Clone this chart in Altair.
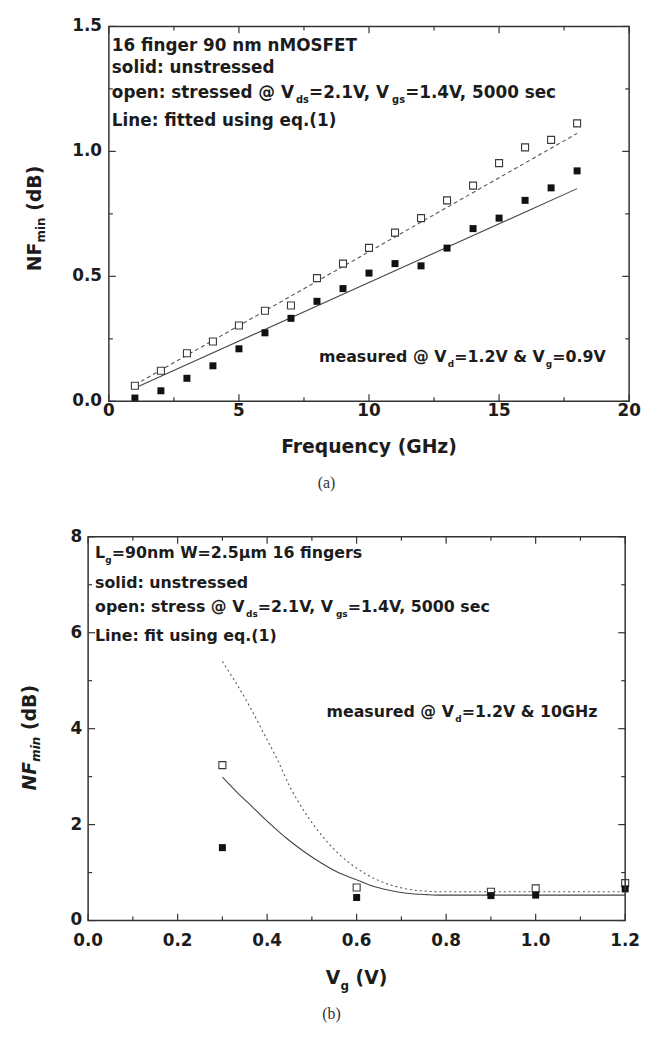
import altair as alt
import pandas as pd

# ---------------- panel (a) data ----------------
freq = list(range(1, 19))
nf_unstressed = [0.013, 0.042, 0.092, 0.142, 0.210, 0.274, 0.332, 0.400, 0.451,
                 0.513, 0.551, 0.542, 0.613, 0.691, 0.733, 0.804, 0.854, 0.922]
nf_stressed = [0.062, 0.122, 0.192, 0.239, 0.303, 0.362, 0.383, 0.493, 0.551,
               0.614, 0.675, 0.733, 0.804, 0.863, 0.953, 1.016, 1.046, 1.112]
fit_freq = [1, 18]
fit_unstressed = [0.053, 0.851]
fit_stressed = [0.066, 1.072]

a_x_major = [0, 5, 10, 15, 20]
a_x_minor = [2.5, 7.5, 12.5, 17.5]
a_y_major = [0.0, 0.5, 1.0, 1.5]
a_y_minor = [0.25, 0.75, 1.25]

# ---------------- panel (b) data ----------------
vg = [0.3, 0.6, 0.9, 1.0, 1.2]
nfb_unstressed = [1.52, 0.48, 0.52, 0.53, 0.66]
nfb_stressed = [3.24, 0.69, 0.60, 0.67, 0.78]
fitb_vg_solid = [0.30, 0.33, 0.368, 0.406, 0.444, 0.482, 0.521, 0.559, 0.597,
                 0.635, 0.673, 0.711, 0.757, 0.788, 1.2]
fitb_solid = [2.99, 2.70, 2.36, 2.02, 1.71, 1.44, 1.20, 1.00, 0.86,
              0.72, 0.63, 0.57, 0.54, 0.53, 0.53]
fitb_vg_dash = [0.30, 0.36, 0.391, 0.421, 0.452, 0.482, 0.513, 0.559, 0.605,
                0.650, 0.696, 0.742, 0.79, 1.2]
fitb_dash = [5.40, 4.48, 3.93, 3.39, 2.77, 2.29, 1.88, 1.40, 1.06,
             0.83, 0.69, 0.62, 0.60, 0.60]

b_x_major = [0.0, 0.2, 0.4, 0.6, 0.8, 1.0, 1.2]
b_x_minor = [0.1, 0.3, 0.5, 0.7, 0.9, 1.1]
b_y_major = [0, 2, 4, 6, 8]
b_y_minor = [1, 3, 5, 7]

# ---------------- styling ----------------
FONT = "DejaVu Sans"
SERIF = "Liberation Serif"
TXT = "#1c1c1c"
FRAME = "#333333"
GW = 548  # common group width of both panels
TICKFS = 17

# approximate DejaVu Sans Bold advance widths (per 1000 em)
CW = {' ': 348, '0': 696, '1': 696, '2': 696, '3': 696, '4': 696, '5': 696, '6': 696,
      '7': 696, '8': 696, '9': 696, '.': 380, ',': 380, ':': 402, '=': 838, '@': 1002,
      '&': 872, '(': 456, ')': 456, 'μ': 721,
      'a': 675, 'c': 593, 'd': 716, 'e': 678, 'f': 435, 'g': 716, 'h': 712, 'i': 343,
      'l': 343, 'm': 1042, 'n': 712, 'o': 687, 'p': 716, 'q': 716, 'r': 493, 's': 595,
      't': 478, 'u': 712, 'y': 651, 'z': 570,
      'B': 762, 'E': 683, 'F': 683, 'G': 821, 'H': 837, 'L': 637, 'M': 995, 'N': 837,
      'O': 850, 'S': 720, 'T': 682, 'V': 775, 'W': 1102}


def wtxt(s, size):
    return 1.01 * sum(CW.get(c, 650) for c in s) * size / 1000.0


def text_layer(s, x, y, size, weight="bold", style="normal", align="left",
               angle=0, font=FONT, color=TXT):
    kw = dict(align=align, baseline="middle", font=font, fontSize=size,
              fontWeight=weight, fontStyle=style, color=color)
    if angle:
        kw["angle"] = angle
    return alt.Chart(pd.DataFrame({"t": [s]})).mark_text(**kw).encode(
        x=alt.value(x), y=alt.value(y), text="t:N")


def rich(segs, x, y, size, sub_size, sub_dy, anchor="left", rotated=False):
    widths = [wtxt(t, sub_size if sb else size) for t, sb, it in segs]
    total = sum(widths)
    cum = {"left": 0.0, "center": -total / 2.0, "right": -total}[anchor]
    out = []
    for (t, sb, it), w in zip(segs, widths):
        sz = sub_size if sb else size
        lead = len(t) - len(t.lstrip(" "))
        off = wtxt(" " * lead, sz)
        txt = t.lstrip(" ")
        st = "italic" if it else "normal"
        if rotated:
            out.append(text_layer(txt, x + (sub_dy if sb else 0), y - cum - off, sz,
                                  style=st, angle=270))
        else:
            out.append(text_layer(txt, x + cum + off, y + (sub_dy if sb else 0), sz,
                                  style=st))
        cum += w
    return out


def frame_layers(xs, ys, x0, x1, H, xmaj, xmin, ymaj, ymin, xfmt, yfmt,
                 xlab_y, ylab_pad, major=7, minor=4):
    layers = []
    one = pd.DataFrame({"t": [0]})
    layers.append(alt.Chart(one).mark_rect(fillOpacity=0, stroke=FRAME, strokeWidth=1.5).encode(
        x=alt.value(x0), x2=alt.value(x1), y=alt.value(0), y2=alt.value(H)))
    for vals, L in ((xmaj, major), (xmin, minor)):
        df = pd.DataFrame({"v": vals})
        for yy, yy2 in ((H, H - L), (0, L)):
            layers.append(alt.Chart(df).mark_rule(color=FRAME, strokeWidth=1.2).encode(
                x=alt.X("v:Q", scale=xs, axis=None),
                y=alt.value(yy), y2=alt.value(yy2)))
    for vals, L in ((ymaj, major), (ymin, minor)):
        df = pd.DataFrame({"v": vals})
        for xx, xx2 in ((x0, x0 + L), (x1, x1 - L)):
            layers.append(alt.Chart(df).mark_rule(color=FRAME, strokeWidth=1.2).encode(
                y=alt.Y("v:Q", scale=ys, axis=None),
                x=alt.value(xx), x2=alt.value(xx2)))
    # tick labels
    layers.append(alt.Chart(pd.DataFrame({"v": xmaj})).mark_text(
        align="center", baseline="middle", font=FONT, fontSize=TICKFS, fontWeight="bold",
        color=TXT).encode(x=alt.X("v:Q", scale=xs, axis=None), y=alt.value(xlab_y),
                          text=alt.Text("v:Q", format=xfmt)))
    layers.append(alt.Chart(pd.DataFrame({"v": ymaj})).mark_text(
        align="right", baseline="middle", dy=0, font=FONT, fontSize=TICKFS, fontWeight="bold",
        color=TXT).encode(y=alt.Y("v:Q", scale=ys, axis=None), x=alt.value(x0 - ylab_pad),
                          text=alt.Text("v:Q", format=yfmt)))
    return layers


def spacer(x, y1, y2):
    return alt.Chart(pd.DataFrame({"t": [0]})).mark_rule(
        strokeOpacity=0, opacity=0).encode(
        x=alt.value(x), y=alt.value(y1), y2=alt.value(y2))


# ================= panel (a) =================
X0A, X1A, H1 = 21, 547, 379
xs1 = alt.Scale(domain=[0, 20], range=[X0A, X1A], nice=False, zero=False)
ys1 = alt.Scale(domain=[0, 1.5], nice=False, zero=False)
df_a = pd.DataFrame({"f": freq, "u": nf_unstressed, "s": nf_stressed})
fit_a = pd.DataFrame({"f": fit_freq, "u": fit_unstressed, "s": fit_stressed})

a_fit_u = alt.Chart(fit_a).mark_line(color="#444", strokeWidth=1.1).encode(
    x=alt.X("f:Q", scale=xs1, axis=None), y=alt.Y("u:Q", scale=ys1, axis=None))
a_fit_s = alt.Chart(fit_a).mark_line(color="#555", strokeWidth=1.1, strokeDash=[4, 3]).encode(
    x=alt.X("f:Q", scale=xs1, axis=None), y=alt.Y("s:Q", scale=ys1, axis=None))
a_open = alt.Chart(df_a).mark_square(size=50, filled=True, fill="white", stroke="#3a3a3a",
                                     strokeWidth=1.1, opacity=1).encode(
    x=alt.X("f:Q", scale=xs1, axis=None), y=alt.Y("s:Q", scale=ys1, axis=None))
a_fill = alt.Chart(df_a).mark_square(size=50, color="#111", opacity=1).encode(
    x=alt.X("f:Q", scale=xs1, axis=None), y=alt.Y("u:Q", scale=ys1, axis=None))

TX = X0A + 3
a_text = []
a_text.append(text_layer("16 finger 90 nm nMOSFET", TX, 20, 17))
a_text.append(text_layer("solid: unstressed", TX, 42, 17))
a_text += rich([("open: stressed @ V", False, False), ("ds", True, False),
                ("=2.1V, V", False, False), ("gs", True, False),
                ("=1.4V, 5000 sec", False, False)], TX, 67, 17, 10, 7)
a_text.append(text_layer("Line: fitted using eq.(1)", TX, 96, 17))
a_text += rich([("measured @ V", False, False), ("d", True, False),
                ("=1.2V & V", False, False), ("g", True, False),
                ("=0.9V", False, False)], X0A + 503, 334, 16, 9, 7, anchor="right")
a_text.append(text_layer("Frequency (GHz)", (X0A + X1A) / 2, 425, 19, align="center"))
a_text += rich([("NF", False, False), ("min", True, False), (" (dB)", False, False)],
               -54, 194, 19, 12, 6, anchor="center", rotated=True)
a_text.append(text_layer("(a)", 241, 462, 16, weight="normal", align="center",
                         font=SERIF, color="#333"))

panel_a = alt.layer(
    a_fit_u, a_fit_s, a_open, a_fill,
    *frame_layers(xs1, ys1, X0A, X1A, H1, a_x_major, a_x_minor, a_y_major, a_y_minor,
                  "d", ".1f", H1 + 10, 7),
    *a_text, spacer(-81, -13, 472)
).properties(width=GW, height=H1)

# ================= panel (b) =================
X0B, X1B, H2 = 0, 543, 388
xs2 = alt.Scale(domain=[0, 1.2], range=[X0B, X1B], nice=False, zero=False)
ys2 = alt.Scale(domain=[0, 8], nice=False, zero=False)
df_b = pd.DataFrame({"v": vg, "u": nfb_unstressed, "s": nfb_stressed})
fit_b_solid = pd.DataFrame({"v": fitb_vg_solid, "n": fitb_solid})
fit_b_dash = pd.DataFrame({"v": fitb_vg_dash, "n": fitb_dash})

b_fit_u = alt.Chart(fit_b_solid).mark_line(color="#444", strokeWidth=1.1,
                                           interpolate="monotone").encode(
    x=alt.X("v:Q", scale=xs2, axis=None), y=alt.Y("n:Q", scale=ys2, axis=None))
b_fit_s = alt.Chart(fit_b_dash).mark_line(color="#555", strokeWidth=1.1, strokeDash=[2, 3],
                                          interpolate="monotone").encode(
    x=alt.X("v:Q", scale=xs2, axis=None), y=alt.Y("n:Q", scale=ys2, axis=None))
b_open = alt.Chart(df_b).mark_square(size=50, filled=True, fill="white", stroke="#3a3a3a",
                                     strokeWidth=1.1, opacity=1).encode(
    x=alt.X("v:Q", scale=xs2, axis=None), y=alt.Y("s:Q", scale=ys2, axis=None))
b_fill = alt.Chart(df_b).mark_square(size=50, color="#111", opacity=1).encode(
    x=alt.X("v:Q", scale=xs2, axis=None), y=alt.Y("u:Q", scale=ys2, axis=None))

b_text = []
b_text += rich([("L", False, False), ("g", True, False),
                ("=90nm W=2.5μm 16 fingers", False, False)], 7, 16, 16, 9, 7)
b_text.append(text_layer("solid: unstressed", 7, 47, 16))
b_text += rich([("open: stress @ V", False, False), ("ds", True, False),
                ("=2.1V, V", False, False), ("gs", True, False),
                ("=1.4V, 5000 sec", False, False)], 7, 71, 16, 9, 7)
b_text.append(text_layer("Line: fit using eq.(1)", 7, 100, 16))
b_text += rich([("measured @ V", False, False), ("d", True, False),
                ("=1.2V & 10GHz", False, False)], 241, 177, 16, 9, 7)
b_text += rich([("V", False, False), ("g", True, False), (" (V)", False, False)],
               (X0B + X1B) / 2, 446, 19, 12, 8, anchor="center")
b_text += rich([("NF", False, True), ("min", True, True), (" (dB)", False, False)],
               -59, 203, 19, 12, 6, anchor="center", rotated=True)
b_text.append(text_layer("(b)", 246, 483, 16, weight="normal", align="center",
                         font=SERIF, color="#333"))

panel_b = alt.layer(
    b_fit_u, b_fit_s, b_open, b_fill,
    *frame_layers(xs2, ys2, X0B, X1B, H2, b_x_major, b_x_minor, b_y_major, b_y_minor,
                  ".1f", "d", H2 + 21, 6),
    *b_text, spacer(-81, -12, 490)
).properties(width=GW, height=H2)

chart = alt.vconcat(panel_a, panel_b, spacing=32).properties(
    padding={"left": 0, "top": 0, "right": 0, "bottom": 0}
).configure_view(strokeWidth=0)

chart.save("out.html", embed_options={"renderer": "svg", "actions": False})
